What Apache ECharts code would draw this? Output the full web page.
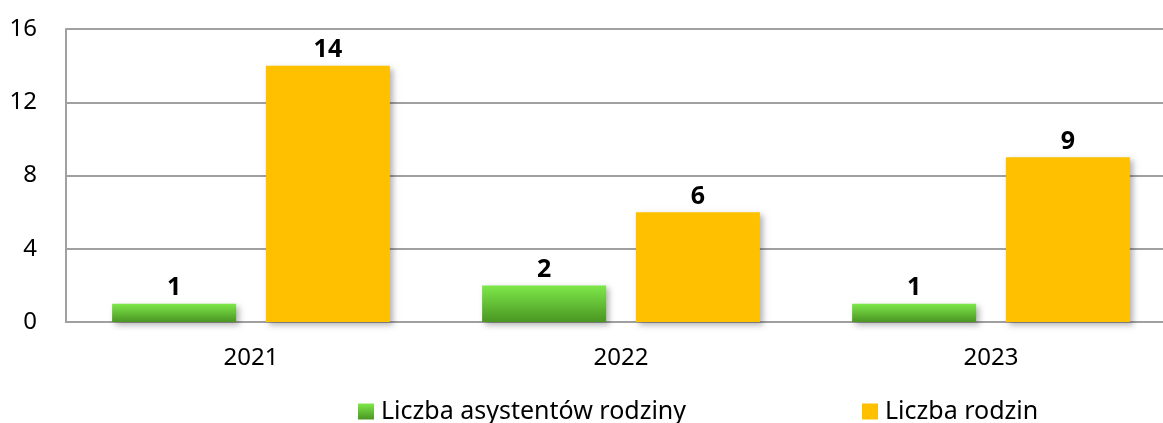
<!DOCTYPE html>
<html>
<head>
<meta charset="utf-8">
<script src="https://cdn.jsdelivr.net/npm/echarts@6/dist/echarts.min.js"></script>
<style>
  html, body { margin: 0; padding: 0; background: #fff; overflow: hidden; }
  /* wykres szerszy od okna - prawa krawędź siatki wychodzi poza kadr jak w oryginale */
  #chart { width: 1176px; height: 423px; }
</style>
</head>
<body>
<div id="chart"></div>
<script>
// dane
const years = ['2021', '2022', '2023']
const asystenci = [1, 2, 1]
const rodziny = [14, 6, 9]
const yTicks = [0, 4, 8, 12, 16]
const seriesNames = ['Liczba asystentów rodziny', 'Liczba rodzin']

const chart = echarts.init(document.getElementById('chart'))

const greenGrad = new echarts.graphic.LinearGradient(0, 0, 0, 1, [
  { offset: 0, color: '#7ee84a' },
  { offset: 1, color: '#4a9622' }
])

const barShadow = {
  shadowBlur: 6,
  shadowOffsetX: 3,
  shadowOffsetY: 3,
  shadowColor: 'rgba(0,0,0,0.3)'
}

const labelStyle = {
  show: true,
  position: 'top',
  distance: 3,
  color: '#000',
  fontWeight: 'bold',
  fontSize: 25,
  fontFamily: 'Noto Sans'
}

// wspólny wygląd legendy
function legendAt(left, name) {
  return {
    left: left,
    top: 394,
    itemWidth: 16,
    itemHeight: 16,
    icon: 'rect',
    textStyle: { fontSize: 25, color: '#000', fontFamily: 'Noto Sans', padding: [0, 0, 0, 2] },
    data: [name]
  }
}

chart.setOption({
  animation: false,
  textStyle: { fontFamily: 'Noto Sans' },
  grid: { left: 66, top: 29, bottom: 101, right: 0 },
  legend: [legendAt(353, seriesNames[0]), legendAt(857, seriesNames[1])],
  xAxis: {
    type: 'category',
    data: years,
    axisLine: { lineStyle: { color: '#a0a0a0', width: 2 } },
    axisTick: { show: false },
    axisLabel: { color: '#000', fontSize: 24, margin: 24 }
  },
  yAxis: {
    type: 'value',
    min: yTicks[0],
    max: yTicks[yTicks.length - 1],
    interval: 4,
    axisLine: { show: true, lineStyle: { color: '#a0a0a0', width: 2 } },
    axisTick: { show: false },
    splitLine: { lineStyle: { color: '#a0a0a0', width: 2 } },
    axisLabel: { color: '#000', fontSize: 24, margin: 29 }
  },
  series: [
    {
      name: seriesNames[0],
      type: 'bar',
      data: asystenci,
      barWidth: 124,
      barGap: '24%',
      itemStyle: Object.assign({ color: greenGrad }, barShadow),
      label: labelStyle
    },
    {
      name: seriesNames[1],
      type: 'bar',
      data: rodziny,
      barWidth: 124,
      itemStyle: Object.assign({ color: '#ffc000' }, barShadow),
      label: labelStyle
    }
  ]
})
</script>
</body>
</html>
